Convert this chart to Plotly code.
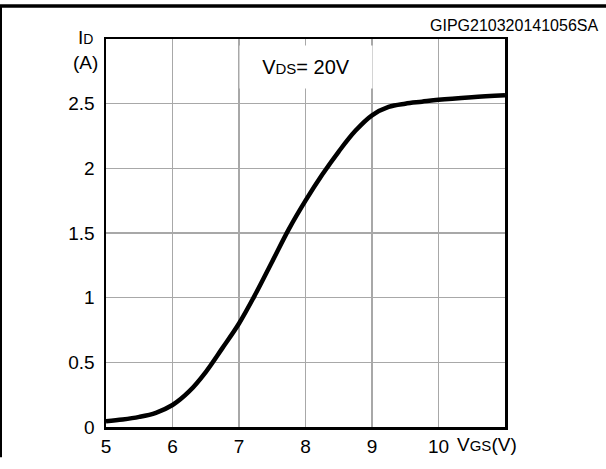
import plotly.graph_objects as go

# Data
vgs = [5.0, 5.25, 5.5, 5.75, 6.0, 6.25, 6.5, 6.75, 7.0, 7.25, 7.5, 7.75, 8.0, 8.25, 8.5, 8.75, 9.0, 9.25, 9.5, 9.75, 10.0, 10.5, 11.0]
id_a = [0.045, 0.058, 0.078, 0.11, 0.17, 0.275, 0.425, 0.61, 0.80, 1.03, 1.28, 1.53, 1.75, 1.95, 2.13, 2.29, 2.41, 2.475, 2.50, 2.515, 2.53, 2.55, 2.565]

x_ticks = [5, 6, 7, 8, 9, 10]
y_ticks = [0, 0.5, 1, 1.5, 2, 2.5]
y_tick_text = ["0", "0.5", "1", "1.5", "2", "2.5"]

FONT = "Liberation Sans, Arial, sans-serif"
W, H = 606, 469
ML, MR, MT, MB = 106, 101, 39, 31
PW, PH = W - ML - MR, H - MT - MB


def px_x(px):
    return (px - ML) / PW


def px_y(py):
    return (H - MB - py) / PH


fig = go.Figure()
fig.add_trace(go.Scatter(
    x=vgs, y=id_a, mode="lines",
    line=dict(color="black", width=4.5, shape="spline", smoothing=1.0),
    hoverinfo="skip", showlegend=False,
))

axis_common = dict(
    showline=True, linecolor="black", linewidth=2.5, mirror=True,
    showgrid=True, gridcolor="#a8a8a8", gridwidth=1.5,
    zeroline=False, ticks="", tickfont=dict(family=FONT, size=19, color="black"),
    fixedrange=True,
)

fig.update_layout(
    width=W, height=H,
    margin=dict(l=ML, r=MR, t=MT, b=MB),
    paper_bgcolor="white", plot_bgcolor="white",
    xaxis=dict(range=[5, 11], tickvals=x_ticks, ticktext=[str(v) for v in x_ticks], ticklabelstandoff=1, **axis_common),
    yaxis=dict(range=[0, 3], tickvals=y_ticks, ticktext=y_tick_text, ticklabelstandoff=5, **axis_common),
    font=dict(family=FONT, color="black"),
)

annots = [
    dict(x=8, y=2.78, xref="x", yref="y",
         text="V<span style='font-size:15px'>DS</span>= 20V",
         showarrow=False, bgcolor="white", width=130, height=40,
         font=dict(family=FONT, size=20, color="black")),
    dict(x=px_x(455), y=px_y(456), xref="paper", yref="paper",
         xanchor="left", yanchor="middle",
         text="V<span style='font-size:15px'>GS</span>(V)", showarrow=False,
         font=dict(family=FONT, size=19, color="black")),
    dict(x=px_x(85), y=px_y(50), xref="paper", yref="paper",
         xanchor="center", yanchor="middle", align="center",
         text="I<span style='font-size:14px'>D</span><br>(A)", showarrow=False,
         font=dict(family=FONT, size=19, color="black")),
    dict(x=px_x(600), y=px_y(25), xref="paper", yref="paper",
         xanchor="right", yanchor="middle",
         text="GIPG210320141056SA", showarrow=False,
         font=dict(family=FONT, size=16, color="black")),
]
fig.update_layout(annotations=annots)

# outer frame: top and left edges
fig.add_shape(type="line", xref="paper", yref="paper", layer="above",
              x0=px_x(0), x1=px_x(W), y0=px_y(5), y1=px_y(5),
              line=dict(color="black", width=3.5))
fig.add_shape(type="line", xref="paper", yref="paper", layer="above",
              x0=px_x(1), x1=px_x(1), y0=px_y(5), y1=px_y(H),
              line=dict(color="black", width=2))

fig.write_html("out.html", config={"displayModeBar": False, "staticPlot": True},
               post_script="document.body.style.margin='0';document.body.style.overflow='hidden';")
